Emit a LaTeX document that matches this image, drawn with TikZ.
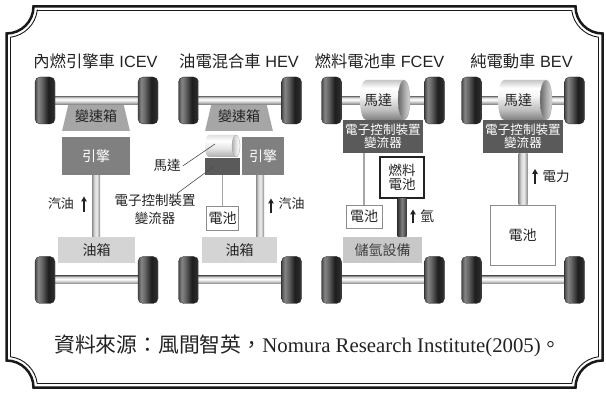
\documentclass[tikz,border=0pt]{standalone}
\usepackage{fontspec}
\setmainfont{Liberation Serif}
\newfontfamily\cjk{Noto Sans CJK TC}
\newfontfamily\heading{Liberation Sans}
\usetikzlibrary{calc,arrows.meta,shapes.geometric}

% colours
\definecolor{gbgray}{HTML}{A6A6A6}
\definecolor{enggray}{HTML}{808080}
\definecolor{tankgray}{HTML}{D4D4D4}
\definecolor{ecugray}{HTML}{5A5A5A}
\definecolor{hgray}{HTML}{C8C8C8}
\definecolor{ink}{HTML}{222222}

% shadings (the 25bp..75bp band is mapped onto the shaded path)
\pgfdeclarehorizontalshading{tireshade}{100bp}{color(0bp)=(black!72); color(25bp)=(black!72); color(33bp)=(black!48); color(42bp)=(black!60); color(58bp)=(black!88); color(70bp)=(black!84); color(75bp)=(black!70); color(100bp)=(black!70)}
\pgfdeclareverticalshading{axleshade}{100bp}{color(0bp)=(black!50); color(25bp)=(black!50); color(40bp)=(black!22); color(55bp)=(white); color(68bp)=(black!15); color(75bp)=(black!45); color(100bp)=(black!45)}
\pgfdeclareverticalshading{cylbody}{100bp}{color(0bp)=(black!50); color(25bp)=(black!50); color(38bp)=(black!25); color(55bp)=(black!4); color(65bp)=(white); color(75bp)=(black!22); color(100bp)=(black!22)}
\pgfdeclarehorizontalshading{cylface}{100bp}{color(0bp)=(black!60); color(25bp)=(black!60); color(50bp)=(black!35); color(75bp)=(black!15); color(100bp)=(black!15)}
\pgfdeclareverticalshading{cylbodylight}{100bp}{color(0bp)=(black!32); color(25bp)=(black!32); color(45bp)=(black!10); color(62bp)=(white); color(75bp)=(black!12); color(100bp)=(black!12)}
\pgfdeclarehorizontalshading{cylfacelight}{100bp}{color(0bp)=(black!30); color(25bp)=(black!30); color(55bp)=(black!8); color(75bp)=(white); color(100bp)=(white)}
\pgfdeclarehorizontalshading{pipelight}{100bp}{color(0bp)=(black!45); color(25bp)=(black!45); color(40bp)=(black!15); color(55bp)=(black!8); color(75bp)=(black!45); color(100bp)=(black!45)}
\pgfdeclarehorizontalshading{pipedark}{100bp}{color(0bp)=(black!80); color(25bp)=(black!80); color(50bp)=(black!50); color(75bp)=(black!78); color(100bp)=(black!78)}

\tikzset{
  title/.style={font=\heading\fontsize{16.3pt}{18pt}\selectfont, text=ink, inner sep=0pt},
  wheel/.style={rectangle, rounded corners=5pt, minimum width=20pt, minimum height=47pt,
    inner sep=0pt, shading=tireshade, draw=black!85, line width=0.3pt},
  gearbox/.style={trapezium, trapezium angle=67, trapezium stretches=true,
    minimum width=68pt, minimum height=30pt, inner sep=0pt, fill=gbgray, text=ink,
    font=\cjk\fontsize{14pt}{16pt}\selectfont},
  engine/.style={rectangle, minimum height=38pt, inner sep=0pt, fill=enggray, text=white,
    font=\cjk\fontsize{14pt}{16pt}\selectfont},
  tank/.style={rectangle, minimum height=26pt, inner sep=0pt, fill=tankgray, text=ink,
    font=\cjk\fontsize{14pt}{16pt}\selectfont},
  ecu/.style={rectangle, inner sep=0pt, fill=ecugray, text=white, align=center,
    font=\cjk\fontsize{12.6pt}{13.2pt}\selectfont},
  battery/.style={rectangle, inner sep=0pt, fill=white, draw=black!45, line width=0.9pt, text=ink,
    font=\cjk\fontsize{14pt}{16pt}\selectfont},
  fuelcell/.style={rectangle, inner sep=0pt, fill=white, draw=ink, line width=1.8pt, text=ink,
    align=center, font=\cjk\fontsize{13.5pt}{14.5pt}\selectfont},
  lbl/.style={inner sep=0pt, text=ink, font=\cjk\fontsize{13.5pt}{18pt}\selectfont},
  thinlink/.style={draw=black!35, line width=1.8pt},
  leader/.style={draw=black!70, line width=0.6pt},
  uparrow/.style={-{Triangle[width=5.5pt,length=5pt]}, line width=1.1pt, draw=ink},
}

% one axle with its two wheels: name, centre x, centre y
\newcommand\axleset[3]{%
  \coordinate (#1L) at (#2-51.5,#3);
  \coordinate (#1R) at (#2+51.5,#3);
  \shade[shading=axleshade] ([yshift=4pt]#1L) rectangle ([yshift=-4pt]#1R);
  \node[wheel] (#1wl) at (#1L) {};
  \node[wheel] (#1wr) at (#1R) {};
}
% horizontal motor cylinder: centre, half length, x radius, y radius, body shading, face shading
\newcommand\motorbody[6]{%
  \shade[shading=#5] ($(#1)+(-#2,-#4)$) -- ($(#1)+(#2,-#4)$)
     arc[start angle=90,end angle=-90,x radius=#3pt,y radius=#4pt]
     -- ($(#1)+(-#2,#4)$)
     arc[start angle=270,end angle=90,x radius=#3pt,y radius=#4pt] -- cycle;
  \shade[shading=#6, draw=black!35, line width=0.3pt] ($(#1)+(#2,0)$) ellipse[x radius=#3pt, y radius=#4pt];
}

\begin{document}
\begin{tikzpicture}[x=1pt,y=-1pt]
\useasboundingbox (0,0) rectangle (606,393);
\fill[white] (0,0) rectangle (606,393);

% ---- double frame with concave corners ----
\draw[line width=2.5pt, draw=black!90]
  (33.5,6.5) -- (575.5,6.5) arc[start angle=180,end angle=270,radius=27pt]
  -- (602.5,360.5) arc[start angle=90,end angle=180,radius=27pt]
  -- (33.5,387.5) arc[start angle=0,end angle=90,radius=27pt]
  -- (6.5,33.5) arc[start angle=270,end angle=360,radius=27pt] -- cycle;
\draw[line width=0.9pt, draw=black!90]
  (37.24,10.5) -- (571.76,10.5) arc[start angle=187.41,end angle=262.59,radius=31pt]
  -- (598.5,356.76) arc[start angle=97.41,end angle=172.59,radius=31pt]
  -- (37.24,383.5) arc[start angle=7.41,end angle=82.59,radius=31pt]
  -- (10.5,37.24) arc[start angle=277.41,end angle=352.59,radius=31pt] -- cycle;

% ---- titles ----
\node[title] (tA) at (95.5,61) {{\cjk 內燃引擎車} ICEV};
\node[title] (tB) at (239,61) {{\cjk 油電混合車} HEV};
\node[title] (tC) at (379.5,61) {{\cjk 燃料電池車} FCEV};
\node[title] (tD) at (521.5,61) {{\cjk 純電動車} BEV};

% ---- gearboxes sit under the front axles ----
\node[gearbox] (gbA) at (96,116) {\raisebox{-4pt}{變速箱}};
\node[gearbox] (gbB) at (239,116) {\raisebox{-4pt}{變速箱}};

% ---- axles and wheels ----
\axleset{fA}{96.5}{100.5}
\axleset{fB}{240}{100.5}
\axleset{fC}{383}{100.5}
\axleset{fD}{523}{100.5}
\axleset{rA}{96.5}{280}
\axleset{rB}{240}{280}
\axleset{rC}{383}{280}
\axleset{rD}{523}{280}

% ---- ICEV ----
\node[engine, minimum width=68pt] (engA) at (96,156) {引擎};
\node[tank, minimum width=77pt] (tankA) at (96.5,250) {油箱};
\shade[shading=pipelight] ([xshift=-4pt]engA.south) rectangle ([xshift=4pt]engA.south |- tankA.north);
\node[lbl, font=\cjk\fontsize{13pt}{15pt}\selectfont] (gasA) at (61,204) {汽油};
\coordinate (aA1) at (84,212);
\coordinate (aA2) at (84,196.5);
\draw[uparrow] (aA1) -- (aA2);

% ---- HEV ----
\coordinate (motB) at (222.5,146);
\motorbody{motB}{13.5}{4}{11}{cylbodylight}{cylfacelight}
\node[ecu, minimum width=35pt, minimum height=17pt] (ecuB) at (222.5,166.5) {};
\node[engine, minimum width=42pt] (engB) at (263,156) {引擎};
\node[tank, minimum width=75pt] (tankB) at (239.5,250) {油箱};
\node[battery, minimum width=32pt, minimum height=24pt] (batB) at (222.5,218) {電池};
\draw[thinlink] (ecuB.south) -- (ecuB.south |- batB.north);
\shade[shading=pipelight] ([xshift=-7pt]engB.south) rectangle ([xshift=1pt]engB.south |- tankB.north);
\node[lbl, font=\cjk\fontsize{13pt}{15pt}\selectfont] (gasB) at (291.5,204) {汽油};
\coordinate (aB1) at (271,213);
\coordinate (aB2) at (271,198.5);
\draw[uparrow] (aB1) -- (aB2);
\node[lbl] (lblMotB) at (167,165) {馬達};
\node[lbl, align=center] (lblEcuB) at (155,209) {電子控制裝置\\變流器};
\coordinate (motBpt) at (215,144);
\coordinate (ecuBpt) at (213,167);
\draw[leader] ([xshift=2pt,yshift=-1pt]lblMotB.east) -- (motBpt);
\draw[leader] ($(lblEcuB.north)+(22,0)$) -- (ecuBpt);

% ---- FCEV ----
\coordinate (motC) at (385,100);
\motorbody{motC}{19}{6}{20}{cylbody}{cylface}
\node[lbl, font=\cjk\fontsize{14pt}{16pt}\selectfont] (lblMotC) at (378,100) {馬達};
\node[ecu, minimum width=80pt, minimum height=33pt] (ecuC) at (383,136.5) {電子控制裝置\\變流器};
\node[battery, minimum width=36pt, minimum height=23pt] (batC) at (364,216.5) {電池};
\draw[thinlink] (batC.north |- ecuC.south) -- (batC.north);
\node[fuelcell, minimum width=44pt, minimum height=41pt] (fcC) at (402,177.5) {燃料\\電池};
\node[tank, fill=hgray, minimum width=79pt, text=black!75] (h2C) at (382.5,250) {儲氫設備};
\shade[shading=pipedark] ([xshift=-4.5pt]fcC.south) rectangle ([xshift=4.5pt]fcC.south |- h2C.north);
\node[lbl, font=\cjk\fontsize{14pt}{16pt}\selectfont] (gasC) at (427,216) {氫};
\coordinate (aC1) at (413,223.5);
\coordinate (aC2) at (413,209.5);
\draw[uparrow] (aC1) -- (aC2);

% ---- BEV ----
\coordinate (motD) at (525,100);
\motorbody{motD}{21}{6}{20}{cylbody}{cylface}
\node[lbl, font=\cjk\fontsize{14pt}{16pt}\selectfont] (lblMotD) at (518,100) {馬達};
\node[ecu, minimum width=80pt, minimum height=33pt] (ecuD) at (523,136.5) {電子控制裝置\\變流器};
\node[battery, minimum width=65pt, minimum height=60pt] (batD) at (522.5,235) {電池};
\shade[shading=pipelight] ([xshift=-4.5pt]ecuD.south) rectangle ([xshift=4.5pt]ecuD.south |- batD.north);
\node[lbl, font=\cjk\fontsize{13.5pt}{15pt}\selectfont] (gasD) at (556,176) {電力};
\coordinate (aD1) at (535,184);
\coordinate (aD2) at (535,169);
\draw[uparrow] (aD1) -- (aD2);

% ---- source line ----
\node[inner sep=0pt, text=ink, font=\fontsize{20.8pt}{24pt}\selectfont] (src) at (308,346)
  {{\cjk 資料來源：風間智英，}Nomura Research Institute(2005){\cjk 。}};
\end{tikzpicture}
\end{document}
